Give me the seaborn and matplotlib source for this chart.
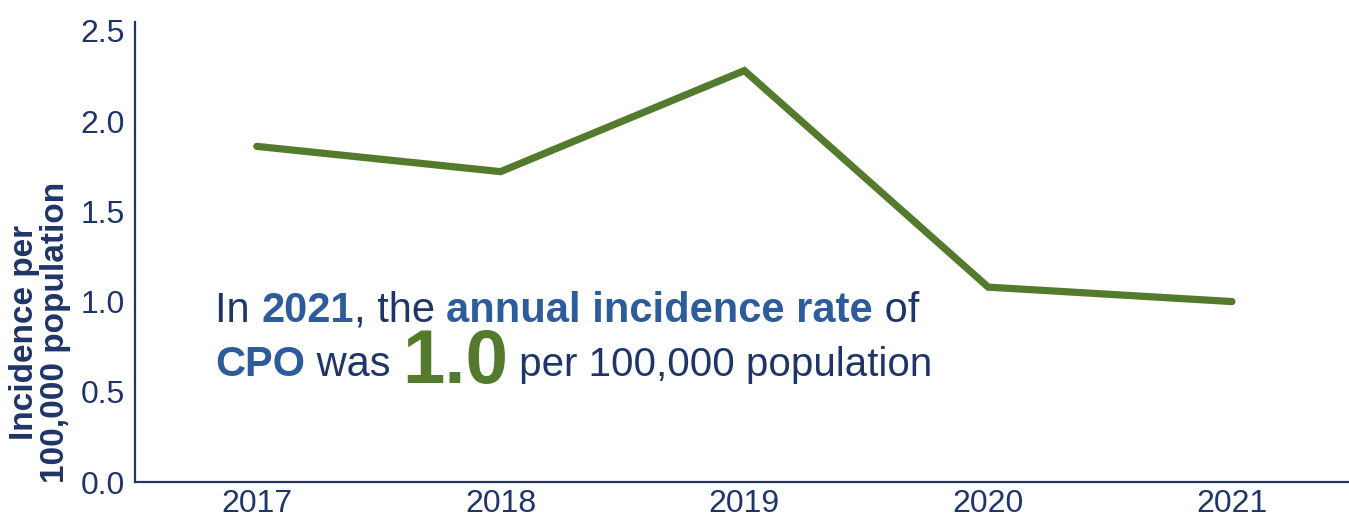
import matplotlib
matplotlib.use("Agg")
import matplotlib.pyplot as plt
import seaborn as sns
import pandas as pd
from matplotlib.transforms import offset_copy

# Data
years = [2017, 2018, 2019, 2020, 2021]
incidence = [1.86, 1.72, 2.28, 1.08, 1.00]
y_ticks = [0.0, 0.5, 1.0, 1.5, 2.0, 2.5]

NAVY = "#1f3468"
BLUE = "#2d5c9c"
GREEN = "#547a2d"


def rich_text(ax, x, y, pieces, fig):
    # draw a run of differently styled words on one baseline
    renderer = fig.canvas.get_renderer()
    trans = ax.transAxes
    for text, kw in pieces:
        kw = dict(kw)
        dy = kw.pop("dy", 0)
        t = ax.text(x, y, text, va="baseline", ha="left",
                    transform=offset_copy(trans, y=dy, units="dots"), **kw)
        t.draw(renderer)
        ex = t.get_window_extent(renderer)
        trans = offset_copy(trans, x=ex.width, units="dots")


def main():
    sns.set_style("white")
    plt.rcParams["font.family"] = ["Liberation Sans", "DejaVu Sans"]

    df = pd.DataFrame({"year": years, "rate": incidence})

    fig = plt.figure(figsize=(13.49, 5.2), dpi=100)
    ax = fig.add_axes([0.1, 0.073, 0.9, 0.885])

    sns.lineplot(data=df, x="year", y="rate", ax=ax, color=GREEN,
                 linewidth=5.2, solid_capstyle="round", solid_joinstyle="miter")

    ax.set_xlim(2016.5, 2021.48)
    ax.set_ylim(0, 2.55)
    ax.set_xticks(years)
    ax.set_xticklabels([str(y) for y in years])
    ax.set_yticks(y_ticks)
    ax.set_yticklabels([f"{v:.1f}" for v in y_ticks])
    ax.tick_params(axis="both", length=0, labelsize=23, labelcolor=NAVY)
    ax.tick_params(axis="y", pad=7)
    ax.tick_params(axis="x", pad=5)

    sns.despine(ax=ax)
    for s in ["left", "bottom"]:
        ax.spines[s].set_color(NAVY)
        ax.spines[s].set_linewidth(1.6)

    ax.set_xlabel("")
    ax.set_ylabel("Incidence per\n100,000 population", fontsize=24,
                  fontweight="bold", color=NAVY, linespacing=1.0)
    ax.yaxis.set_label_coords(-0.053, 0.326)

    fig.canvas.draw()
    big = 30
    rich_text(ax, 0.066, 0.348, [
        ("In ", dict(fontsize=big, color=NAVY)),
        ("2021", dict(fontsize=big, color=BLUE, fontweight="bold")),
        (", the ", dict(fontsize=big, color=NAVY)),
        ("annual incidence rate", dict(fontsize=big, color=BLUE, fontweight="bold")),
        (" of", dict(fontsize=big, color=NAVY)),
    ], fig)
    rich_text(ax, 0.066, 0.23, [
        ("CPO", dict(fontsize=big, color=BLUE, fontweight="bold")),
        (" was ", dict(fontsize=big, color=NAVY)),
        ("1.0", dict(fontsize=55, color=GREEN, fontweight="bold", dy=-7)),
        (" per 100,000 population", dict(fontsize=29, color=NAVY)),
    ], fig)

    fig.savefig("out.png", dpi=100)


if __name__ == "__main__":
    main()
